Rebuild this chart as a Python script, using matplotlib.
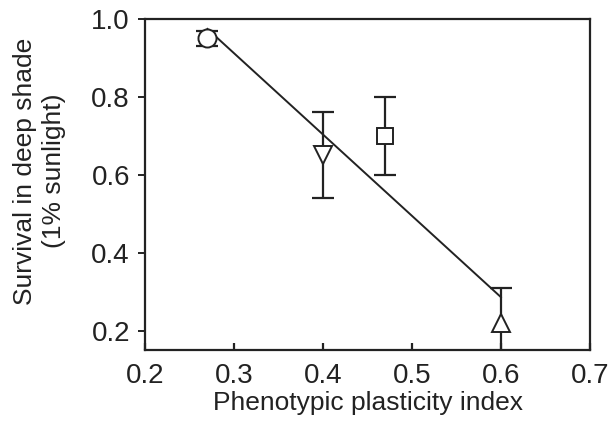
import matplotlib
matplotlib.use("Agg")
import matplotlib.pyplot as plt
import numpy as np

plt.rcParams['font.family'] = ['Liberation Sans', 'DejaVu Sans']

# plasticity index, survival, error bar ends
x = [0.27, 0.40, 0.47, 0.60]
y = [0.95, 0.65, 0.70, 0.22]
y_lo = [0.93, 0.54, 0.60, 0.13]
y_hi = [0.97, 0.76, 0.80, 0.31]
markers = ['o', 'v', 's', '^']
sizes = [13, 13, 11.5, 13]

ink = '#222222'

fig = plt.figure(figsize=(6.1, 4.29), dpi=100)
ax = fig.add_axes([0.238, 0.184, 0.729, 0.772])

# regression line
k, b = np.polyfit(x, y, 1)
xs = np.array([min(x), max(x)])
ax.plot(xs, k * xs + b, color=ink, lw=1.4, zorder=2)

for xi, yi, lo, hi, m, s in zip(x, y, y_lo, y_hi, markers, sizes):
    ax.errorbar([xi], [yi], yerr=[[yi - lo], [hi - yi]], fmt='none',
                ecolor=ink, elinewidth=1.6, capsize=8, capthick=1.6, zorder=3)
    ax.plot([xi], [yi], marker=m, ms=s, mfc='white', mec=ink, mew=1.4,
            ls='none', zorder=4)

ax.set_xlim(0.2, 0.7)
ax.set_ylim(0.15, 1.0)
ax.set_xticks([0.2, 0.3, 0.4, 0.5, 0.6, 0.7])
ax.set_xticklabels(['0.2', '0.3', '0.4', '0.5', '0.6', '0.7'])
ax.set_yticks([0.2, 0.4, 0.6, 0.8, 1.0])
ax.set_yticklabels(['0.2', '0.4', '0.6', '0.8', '1.0'])

for sp in ax.spines.values():
    sp.set_linewidth(1.6)
    sp.set_color(ink)

ax.tick_params(axis='x', direction='in', length=5, width=1.6, colors=ink,
               labelsize=20, pad=9)
ax.tick_params(axis='y', direction='out', length=5, width=1.4, colors=ink,
               labelsize=20, pad=6)

ax.set_xlabel('Phenotypic plasticity index', fontsize=19, color=ink, labelpad=2)
ax.set_ylabel('Survival in deep shade\n(1% sunlight)', fontsize=19, color=ink,
              linespacing=1.25)
ax.yaxis.set_label_coords(-0.178, 0.54)

fig.savefig('out.png', dpi=100)
